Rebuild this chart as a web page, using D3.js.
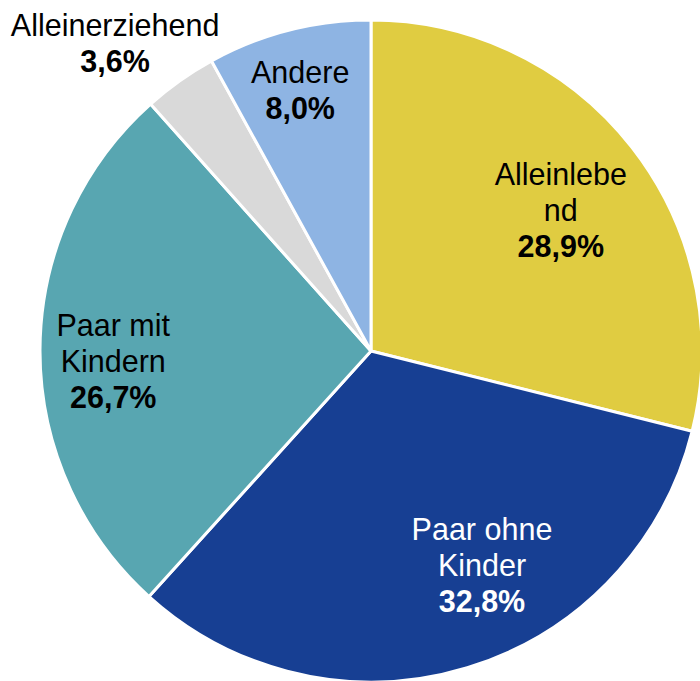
<!DOCTYPE html>
<html lang="de">
<head>
    <meta charset="UTF-8">
    <title>Haushaltstypen</title>
    <script src="https://d3js.org/d3.v7.min.js"></script>
    <style>
        body { margin: 0; background: #fff; }
        text { font-family: "Liberation Sans", Arial, sans-serif; }
    </style>
</head>
<body>
    <div id="chart"></div>

    <script>
        // Data
        const categories = ["Alleinlebend", "Paar ohne Kinder", "Paar mit Kindern", "Alleinerziehend", "Andere"];
        const values = [28.9, 32.8, 26.7, 3.6, 8.0];
        const nameLines = [["Alleinlebe", "nd"], ["Paar ohne", "Kinder"], ["Paar mit", "Kindern"], ["Alleinerziehend"], ["Andere"]];

        // Styling / label layout
        const colors = ["#E0CC41", "#173F93", "#58A6B1", "#D9D9D9", "#8EB4E3"];
        const textColors = ["#000", "#fff", "#000", "#000", "#000"];
        const labelRadius = [236, 241, 258, 400, 270];
        const labelAngleShift = [1.5, -10.5, -2.5, -4.5, -0.8]; // degrees

        const svgWidth = 700, svgHeight = 681;
        const cx = 371, cy = 351, radius = 331;
        const fontSize = 30.5, lineGap = 36;

        const svg = d3.select("#chart")
            .append("svg")
            .attr("width", svgWidth)
            .attr("height", svgHeight);

        const g = svg.append("g")
            .attr("transform", `translate(${cx},${cy})`);

        const pie = d3.pie().sort(null).value(d => d);
        const arcs = pie(values);
        const arc = d3.arc().innerRadius(0).outerRadius(radius);

        g.selectAll("path.slice")
            .data(arcs)
            .enter().append("path")
            .attr("class", "slice")
            .attr("d", arc)
            .attr("fill", (d, i) => colors[i])
            .attr("stroke", "#fff")
            .attr("stroke-width", 3)
            .attr("stroke-linejoin", "round");

        // Labels
        const fmt = v => v.toFixed(1).replace(".", ",") + "%";

        arcs.forEach((d, i) => {
            const a = (d.startAngle + d.endAngle) / 2 + labelAngleShift[i] * Math.PI / 180;
            const x = labelRadius[i] * Math.sin(a);
            const y = -labelRadius[i] * Math.cos(a);
            const lines = nameLines[i].map(t => ({ t, bold: false }));
            lines.push({ t: fmt(values[i]), bold: true });
            const n = lines.length;

            const label = g.append("text")
                .attr("text-anchor", "middle")
                .attr("fill", textColors[i])
                .style("font-size", fontSize + "px");

            lines.forEach((l, j) => {
                label.append("tspan")
                    .attr("x", x)
                    .attr("y", y + (j - (n - 1) / 2) * lineGap)
                    .attr("dy", "0.35em")
                    .attr("font-weight", l.bold ? "bold" : "normal")
                    .text(l.t);
            });
        });
    </script>
</body>
</html>
